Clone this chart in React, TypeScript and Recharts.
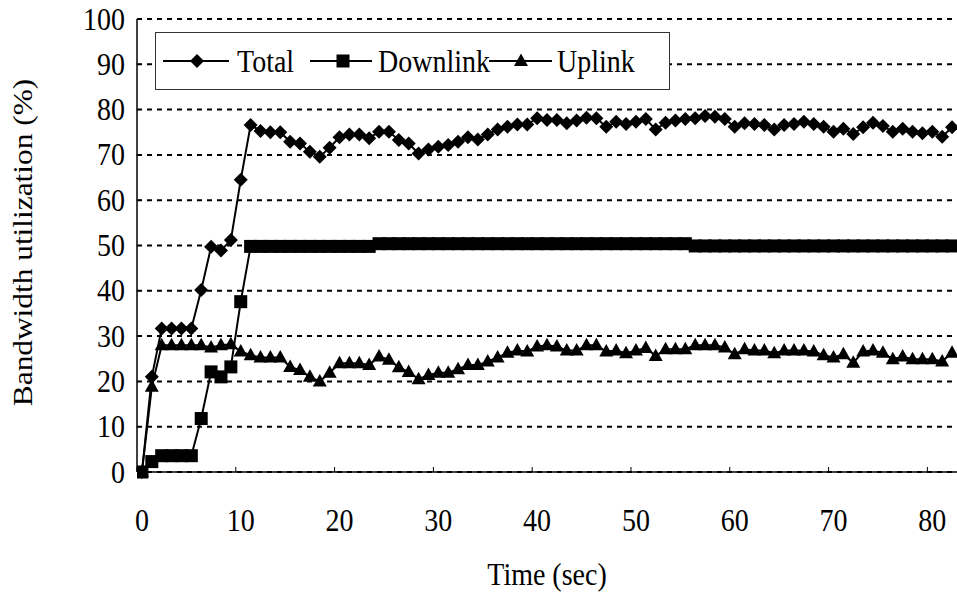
import { LineChart, Line, XAxis, YAxis, CartesianGrid, Legend, Label } from 'recharts';

const time = [
  0, 1, 2, 3, 4, 5, 6, 7, 8, 9, 10, 11, 12, 13, 14, 15, 16, 17, 18, 19, 20,
  21, 22, 23, 24, 25, 26, 27, 28, 29, 30, 31, 32, 33, 34, 35, 36, 37, 38, 39, 40,
  41, 42, 43, 44, 45, 46, 47, 48, 49, 50, 51, 52, 53, 54, 55, 56, 57, 58, 59, 60,
  61, 62, 63, 64, 65, 66, 67, 68, 69, 70, 71, 72, 73, 74, 75, 76, 77, 78, 79, 80,
  81, 82,
];

const total = [
  0, 21.0, 31.7, 31.7, 31.7, 31.7, 40.2, 49.7, 48.9, 51.2, 64.5,
  76.6, 75.3, 75.0, 75.0, 72.9, 72.5, 70.7, 69.6, 71.6, 73.9,
  74.5, 74.5, 73.7, 75.1, 75.1, 73.3, 72.5, 70.3, 71.2, 71.8,
  72.2, 72.9, 73.9, 73.4, 74.5, 75.6, 76.2, 76.7, 76.7, 78.1,
  77.7, 77.7, 77.0, 77.6, 78.2, 78.1, 76.2, 77.3, 76.8, 77.3,
  77.9, 75.6, 77.1, 77.6, 77.9, 78.1, 78.6, 78.4, 77.9, 76.2,
  77.0, 76.8, 76.6, 75.6, 76.6, 76.8, 77.3, 76.8, 76.2, 75.1,
  75.8, 74.6, 76.1, 77.1, 76.4, 75.1, 75.8, 75.1, 74.8, 75.1,
  74.0, 76.1,
];

const downlink = [
  0, 2.3, 3.6, 3.6, 3.6, 3.6, 11.8, 22.1, 21.0, 23.2, 37.6,
  49.8, 49.8, 49.8, 49.8, 49.8, 49.8, 49.8, 49.8, 49.8, 49.8,
  49.8, 49.8, 49.8, 50.4, 50.4, 50.4, 50.4, 50.4, 50.4, 50.4,
  50.4, 50.4, 50.4, 50.4, 50.4, 50.4, 50.4, 50.4, 50.4, 50.4,
  50.4, 50.4, 50.4, 50.4, 50.4, 50.4, 50.4, 50.4, 50.4, 50.4,
  50.4, 50.4, 50.4, 50.4, 50.4, 49.9, 49.9, 49.9, 49.9, 49.9,
  49.9, 49.9, 49.9, 49.9, 49.9, 49.9, 49.9, 49.9, 49.9, 49.9,
  49.9, 49.9, 49.9, 49.9, 49.9, 49.9, 49.9, 49.9, 49.9, 49.9,
  49.9, 49.9,
];

const uplink = [
  0, 18.8, 28.0, 28.0, 28.0, 28.0, 28.0, 27.5, 28.0, 28.2, 26.6,
  25.8, 25.3, 25.3, 25.3, 23.2, 22.5, 21.0, 20.0, 21.9, 24.0,
  24.0, 24.0, 23.6, 25.5, 24.8, 23.1, 22.1, 20.5, 21.4, 21.9,
  21.9, 22.7, 23.6, 23.6, 24.4, 25.3, 26.3, 26.8, 26.6, 27.7,
  28.0, 27.7, 26.8, 26.8, 28.0, 28.0, 26.6, 26.8, 26.2, 26.8,
  27.4, 25.6, 27.1, 27.1, 27.1, 28.0, 28.0, 28.0, 27.5, 26.0,
  27.1, 26.8, 26.8, 26.2, 26.8, 26.8, 26.8, 26.6, 25.8, 25.3,
  26.0, 24.1, 26.6, 26.8, 26.3, 24.9, 25.5, 24.9, 24.9, 24.9,
  24.4, 26.3,
];

const xTicks = [0, 10, 20, 30, 40, 50, 60, 70, 80];
const yTicks = [0, 10, 20, 30, 40, 50, 60, 70, 80, 90, 100];
const seriesNames = ['Total', 'Downlink', 'Uplink'];

const data = time.map((t, i) => ({
  t,
  total: total[i],
  downlink: downlink[i],
  uplink: uplink[i],
}));

const CHART_W = 957;
const CHART_H = 599;
const Y_AXIS_W = 137;
const FONT = '"Liberation Serif", "Times New Roman", serif';
const FONT_SIZE = 28;
// the source picture is a little taller than it is wide, so text is stretched
const STRETCH = 1.12;

// half a category width, for the tick marks that sit between categories
const HALF_CAT = (CHART_W - Y_AXIS_W) / time.length / 2;

const SText = ({ x, y, anchor = 'start', rotate = false, children }: any) => (
  <text
    x={0}
    y={0}
    transform={
      rotate
        ? `translate(${x} ${y}) rotate(-90) scale(${STRETCH} 1)`
        : `translate(${x} ${y}) scale(1 ${STRETCH})`
    }
    textAnchor={anchor}
    fontSize={FONT_SIZE}
    fontFamily={FONT}
    fill="#000"
  >
    {children}
  </text>
);

const Diamond = ({ cx, cy }: { cx: number; cy: number }) => (
  <polygon
    points={`${cx},${cy - 7} ${cx + 7},${cy} ${cx},${cy + 7} ${cx - 7},${cy}`}
    fill="#000"
  />
);

const Square = ({ cx, cy }: { cx: number; cy: number }) => (
  <rect x={cx - 6.5} y={cy - 6.5} width={13} height={13} fill="#000" />
);

const Triangle = ({ cx, cy }: { cx: number; cy: number }) => (
  <polygon
    points={`${cx},${cy - 7.5} ${cx + 7},${cy + 5} ${cx - 7},${cy + 5}`}
    fill="#000"
  />
);

const markers = [Diamond, Square, Triangle];

const XTick = ({ x, y, payload }: any) => (
  <g>
    <line x1={x - HALF_CAT} x2={x - HALF_CAT} y1={y} y2={y - 5} stroke="#000" />
    <SText x={x} y={y + 58.5} anchor="middle">
      {payload.value}
    </SText>
  </g>
);

const YTick = ({ x, y, payload }: any) => (
  <g>
    <line x1={x} x2={x + 5} y1={y} y2={y} stroke="#000" />
    <SText x={x - 12} y={y + 10.5} anchor="end">
      {payload.value}
    </SText>
  </g>
);

const legendItems = [
  { x1: 8, x2: 74, mx: 42, tx: 82 },
  { x1: 155, x2: 217, mx: 188, tx: 223 },
  { x1: 334, x2: 397, mx: 366, tx: 402 },
];

const LegendBox = () => (
  <svg width={515} height={58} style={{ display: 'block' }}>
    <rect x={0.5} y={0.5} width={514} height={57} fill="#fff" stroke="#333" />
    {legendItems.map((it, i) => {
      const M = markers[i];
      return (
        <g key={seriesNames[i]}>
          <line x1={it.x1} x2={it.x2} y1={29} y2={29} stroke="#000" strokeWidth={2} />
          <M cx={it.mx} cy={29} />
          <SText x={it.tx} y={39.5}>
            {seriesNames[i]}
          </SText>
        </g>
      );
    })}
  </svg>
);

const dotFor = (i: number) => (p: any) => {
  const M = markers[i];
  return <M key={`d${i}-${p.index}`} cx={p.cx} cy={p.cy} />;
};

const App = () => {
  return (
    <div style={{ position: 'absolute', left: 0, top: 0, background: '#fff' }}>
      <LineChart
        width={CHART_W}
        height={CHART_H}
        data={data}
        margin={{ top: 19, right: 0, left: 0, bottom: 0 }}
      >
        <CartesianGrid
          vertical={false}
          stroke="#000"
          strokeWidth={2}
          strokeDasharray="5 5"
        />
        <XAxis
          dataKey="t"
          type="number"
          domain={[-0.5, time.length - 0.5]}
          ticks={xTicks}
          interval={0}
          height={127}
          tickSize={0}
          tickMargin={0}
          tickLine={false}
          tick={<XTick />}
          axisLine={{ stroke: '#000', strokeWidth: 1.5 }}
          allowDataOverflow
        >
          <Label
            content={({ viewBox }: any) => (
              <SText x={viewBox.x + viewBox.width / 2} y={viewBox.y + 113} anchor="middle">
                Time (sec)
              </SText>
            )}
          />
        </XAxis>
        <YAxis
          type="number"
          domain={[0, 100]}
          ticks={yTicks}
          interval={0}
          width={Y_AXIS_W}
          tickSize={0}
          tickMargin={0}
          tickLine={false}
          tick={<YTick />}
          axisLine={{ stroke: '#000', strokeWidth: 1.5 }}
        >
          <Label
            content={({ viewBox }: any) => (
              <SText x={viewBox.x + 32} y={viewBox.y + viewBox.height / 2 - 3} anchor="middle" rotate>
                Bandwidth utilization (%)
              </SText>
            )}
          />
        </YAxis>
        <Legend
          verticalAlign="middle"
          align="center"
          layout="horizontal"
          content={<LegendBox />}
          wrapperStyle={{ position: 'absolute', left: 155, top: 32, width: 515, height: 58, margin: 0, padding: 0, lineHeight: 0 }}
        />
        <Line
          type="linear"
          dataKey="total"
          stroke="#000"
          strokeWidth={2}
          dot={dotFor(0)}
          activeDot={false}
          isAnimationActive={false}
        />
        <Line
          type="linear"
          dataKey="downlink"
          stroke="#000"
          strokeWidth={2}
          dot={dotFor(1)}
          activeDot={false}
          isAnimationActive={false}
        />
        <Line
          type="linear"
          dataKey="uplink"
          stroke="#000"
          strokeWidth={2}
          dot={dotFor(2)}
          activeDot={false}
          isAnimationActive={false}
        />
      </LineChart>
    </div>
  );
};

export default App;
